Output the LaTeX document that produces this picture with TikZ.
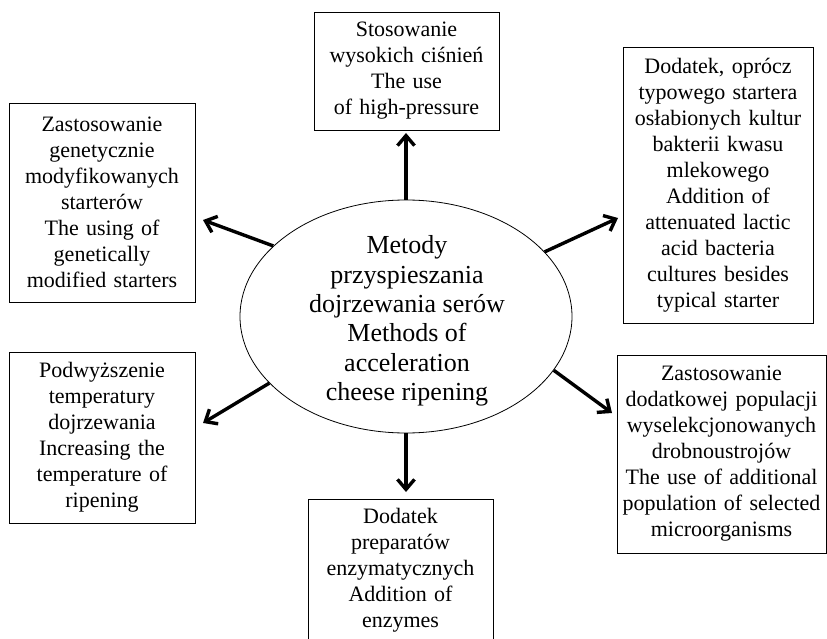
\documentclass[tikz,border=0pt]{standalone}
\usepackage{fontspec}
\setmainfont{Liberation Serif}
\usetikzlibrary{shapes.geometric,arrows.meta}
\tikzset{
  boxnode/.style={draw, line width=0.8pt, align=center, inner xsep=4pt, inner ysep=0pt,
    font=\fontsize{22}{26}\selectfont},
  arr/.style={line width=3.4pt, -{Straight Barb[length=10pt,width=17pt]}}
}
\begin{document}
\begin{tikzpicture}[x=1pt,y=-1pt]
\useasboundingbox (0,0) rectangle (827,639);
\node[draw, ellipse, line width=0.8pt, minimum width=332pt, minimum height=233pt, inner sep=0pt] (ell) at (406,316.5) {};
\node[align=center, font=\fontsize{26}{29.4}\selectfont] (ellt) at (407,321) {Metody\\przyspieszania\\dojrzewania serów\\Methods of\\acceleration\\cheese ripening};

\node[boxnode, text width=177pt, minimum height=118pt] (top) at (406.5,71) {Stosowanie\\wysokich ciśnień\\The use\\of high-pressure};
\node[boxnode, text width=178pt, minimum height=199pt] (ul) at (102,202.5) {Zastosowanie\\genetycznie\\modyfikowanych\\starterów\\The using of\\genetically\\modified starters};
\node[boxnode, text width=182pt, minimum height=276pt] (ur) at (718,185) {Dodatek, oprócz\\typowego startera\\osłabionych kultur\\bakterii kwasu\\mlekowego\\Addition of\\attenuated lactic\\acid bacteria\\cultures besides\\typical starter};
\node[boxnode, text width=178pt, minimum height=171pt] (ll) at (102,437.5) {Podwyższenie\\temperatury\\dojrzewania\\Increasing the\\temperature of\\ripening};
\node[boxnode, text width=177pt, minimum height=142pt] (bot) at (400.5,570) {Dodatek\\preparatów\\enzymatycznych\\Addition of\\enzymes};
\node[boxnode, text width=201pt, minimum height=198pt] (lr) at (721.5,454) {Zastosowanie\\dodatkowej populacji\\wyselekcjonowanych\\drobnoustrojów\\The use of additional\\population of selected\\microorganisms};

\coordinate (tUp) at (406,133);
\coordinate (tUL) at (203,220);
\coordinate (tUR) at (618,218);
\coordinate (tLL) at (203,423);
\coordinate (tDn) at (406,492);
\coordinate (tLR) at (612,413);

\draw[arr] (ell.north) -- (tUp);
\draw[arr] (ell.152) -- (tUL);
\draw[arr] (ell.25) -- (tUR);
\draw[arr] (ell.206) -- (tLL);
\draw[arr] (ell.south) -- (tDn);
\draw[arr] (ell.340) -- (tLR);
\end{tikzpicture}
\end{document}
